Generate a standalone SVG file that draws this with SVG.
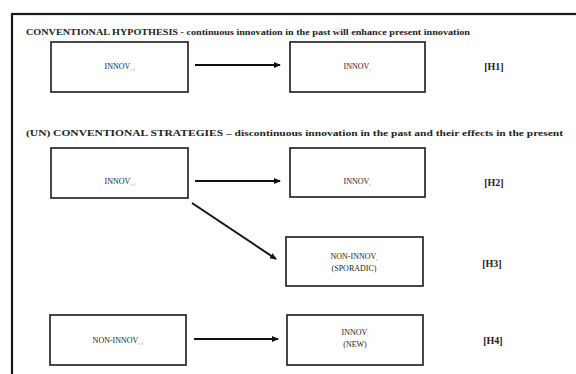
<svg xmlns="http://www.w3.org/2000/svg" width="576" height="374" viewBox="0 0 576 374">
<style>
.box{fill:#fff;stroke:#1a1a1a;stroke-width:1.6}
.t{font-family:"Liberation Serif","DejaVu Serif",serif;font-size:8px;fill:#222;text-anchor:middle}
.s{font-size:4.5px;fill:#999}
.h{font-family:"Liberation Serif","DejaVu Serif",serif;font-size:10px;font-weight:bold;fill:#222;text-anchor:middle}
.ti{font-family:"Liberation Serif","DejaVu Serif",serif;font-size:8px;font-weight:bold;fill:#222}
.c{stroke:#111;stroke-width:2;fill:none}
</style>
<defs>
<marker id="ah" markerWidth="8" markerHeight="8" refX="6" refY="4" orient="auto" markerUnits="userSpaceOnUse">
<path d="M0,1 L7,4 L0,7 Z" fill="#111"/>
</marker>
</defs>
<rect x="0" y="0" width="576" height="374" fill="#fff"/>
<rect x="12" y="14" width="600" height="400" fill="none" stroke="#1a1a1a" stroke-width="2.2"/>
<text class="ti" x="26" y="35" textLength="444" lengthAdjust="spacingAndGlyphs">CONVENTIONAL HYPOTHESIS - continuous innovation in the past will enhance present innovation</text>
<text class="ti" x="26" y="136" textLength="537" lengthAdjust="spacingAndGlyphs">(UN) CONVENTIONAL STRATEGIES – discontinuous innovation in the past and their effects in the present</text>
<g id="n1"><rect class="box" x="51" y="42" width="137" height="50"/><text class="t" x="120" y="69">INNOV<tspan class="s" dy="2">t-1</tspan></text></g>
<g id="n2"><rect class="box" x="290" y="42" width="135" height="50"/><text class="t" x="357" y="69">INNOV<tspan class="s" dy="2">t</tspan></text></g>
<text class="h" x="494" y="70">[H1]</text>
<g id="n3"><rect class="box" x="51" y="148" width="137" height="50"/><text class="t" x="120" y="184">INNOV<tspan class="s" dy="2">t-1</tspan></text></g>
<g id="n4"><rect class="box" x="290" y="148" width="135" height="49"/><text class="t" x="357" y="184">INNOV<tspan class="s" dy="2">t</tspan></text></g>
<text class="h" x="494" y="186">[H2]</text>
<g id="n5"><rect class="box" x="286" y="237" width="137" height="49"/><text class="t" x="354" y="259">NON-INNOV<tspan class="s" dy="2">t</tspan></text><text class="t" x="354" y="271">(SPORADIC)</text></g>
<text class="h" x="492" y="267">[H3]</text>
<g id="n6"><rect class="box" x="50" y="315" width="136" height="50"/><text class="t" x="118" y="343">NON-INNOV<tspan class="s" dy="2">t-1</tspan></text></g>
<g id="n7"><rect class="box" x="287" y="315" width="136" height="50"/><text class="t" x="355" y="335">INNOV<tspan class="s" dy="2">t</tspan></text><text class="t" x="355" y="347">(NEW)</text></g>
<text class="h" x="493" y="344">[H4]</text>
<g id="connectors">
<line class="c" x1="195" y1="65" x2="280" y2="65" marker-end="url(#ah)"/>
<line class="c" x1="195" y1="181" x2="280" y2="181" marker-end="url(#ah)"/>
<line class="c" x1="192" y1="203" x2="276" y2="259" marker-end="url(#ah)"/>
<line class="c" x1="194" y1="339" x2="278" y2="339" marker-end="url(#ah)"/>
</g>
</svg>
